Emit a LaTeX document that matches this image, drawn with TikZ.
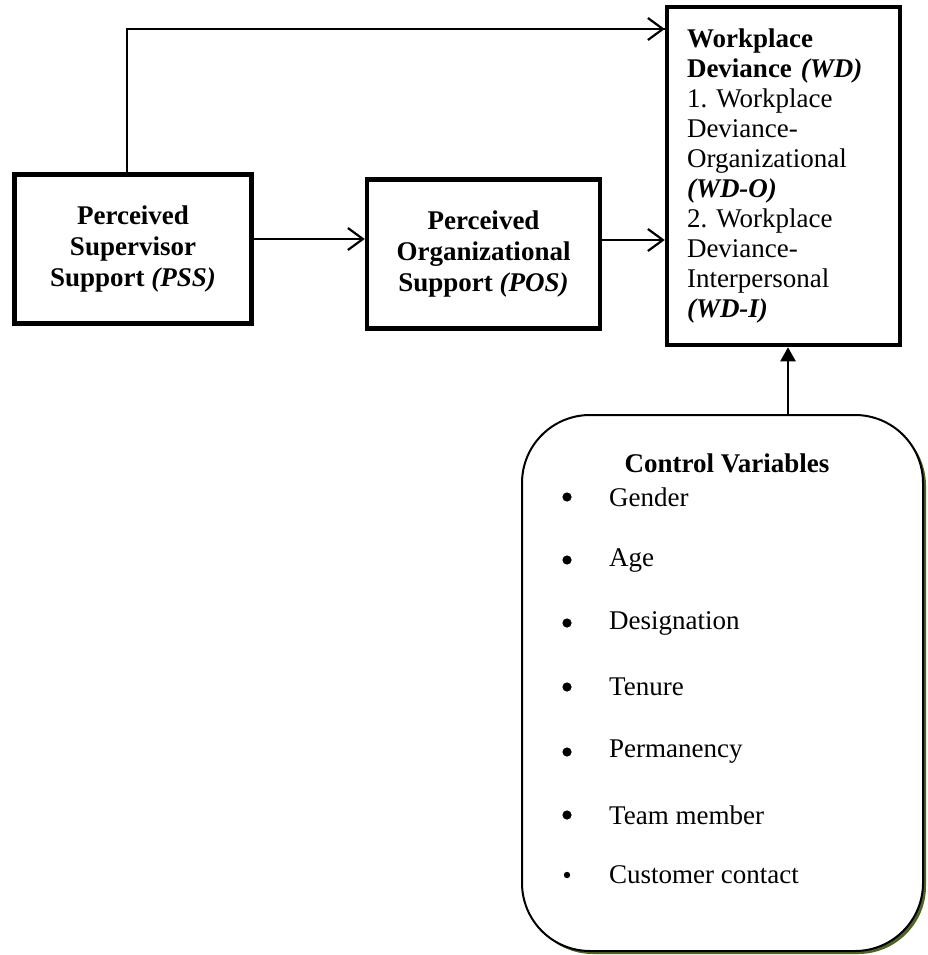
\documentclass[tikz,border=0pt]{standalone}
\usepackage{fontspec}
\setmainfont{Liberation Serif}
\usetikzlibrary{arrows.meta,shadows}
\definecolor{olivesh}{HTML}{4F6228}
\frenchspacing
\tikzset{
  varbox/.style={draw,line width=4.5pt,align=center,inner sep=0pt,
    font=\bfseries\fontsize{27}{31}\selectfont},
  link/.style={line width=2.2pt,-{Straight Barb[length=15pt,width=22pt,line width=2.2pt]}},
  ctrlbox/.style={draw,line width=2pt,rounded corners=68pt,fill=white,
    drop shadow={shadow xshift=3pt,shadow yshift=-3pt,fill=olivesh,opacity=1}},
  item/.style={anchor=west,font=\fontsize{27}{30}\selectfont,inner sep=0pt}
}
\begin{document}
\begin{tikzpicture}[x=1pt,y=-1pt]
\useasboundingbox (0,0) rectangle (927,955);

\node[varbox,minimum width=237,minimum height=149] (pss) at (133,249) {Perceived\\Supervisor\\Support \textit{(PSS)}};
\node[varbox,minimum width=233,minimum height=149] (pos) at (483.5,254) {Perceived\\Organizational\\Support \textit{(POS)}};
\node[varbox,font=\fontsize{27}{30}\selectfont,align=left,text width=193,inner xsep=20,
  minimum width=233,minimum height=338] (wd) at (783.5,176)
  {\textbf{Workplace}\\ \textbf{Deviance \textit{(WD)}}\\ 1. Workplace\\ Deviance-\\ Organizational\\
   \textbf{\textit{(WD-O)}}\\ 2. Workplace\\ Deviance-\\ Interpersonal\\ \textbf{\textit{(WD-I)}}};

\node[ctrlbox,minimum width=401,minimum height=536] (ctrl) at (722.5,683) {};
\node[font=\bfseries\fontsize{27}{30}\selectfont] (title) at (727,463) {Control Variables};

\foreach \y/\t/\r in {497/Gender/4.6, 560/Age/4.6, 623/Designation/4.6, 687/Tenure/4.6,
                      752/Permanency/4.6, 815/Team member/4.6, 875/Customer contact/3.2} {
  \fill (567,\y) circle (\r);
  \node[item] at (609,\y) {\t};
}

\draw[line width=2.2pt] (127,0 |- pss.north) -- (127,29) -- (127,29 -| wd.west);
\draw[link] (127,29) -- (127,29 -| wd.west);
\draw[link] (pss.east |- 0,239) -- (pos.west |- 0,239);
\draw[link] (pos.east |- 0,240) -- (wd.west |- 0,240);
\draw[line width=2.2pt,-{Triangle[length=14pt,width=15pt]}] (ctrl.north -| 788,0) -- (wd.south -| 788,0);

\end{tikzpicture}
\end{document}
